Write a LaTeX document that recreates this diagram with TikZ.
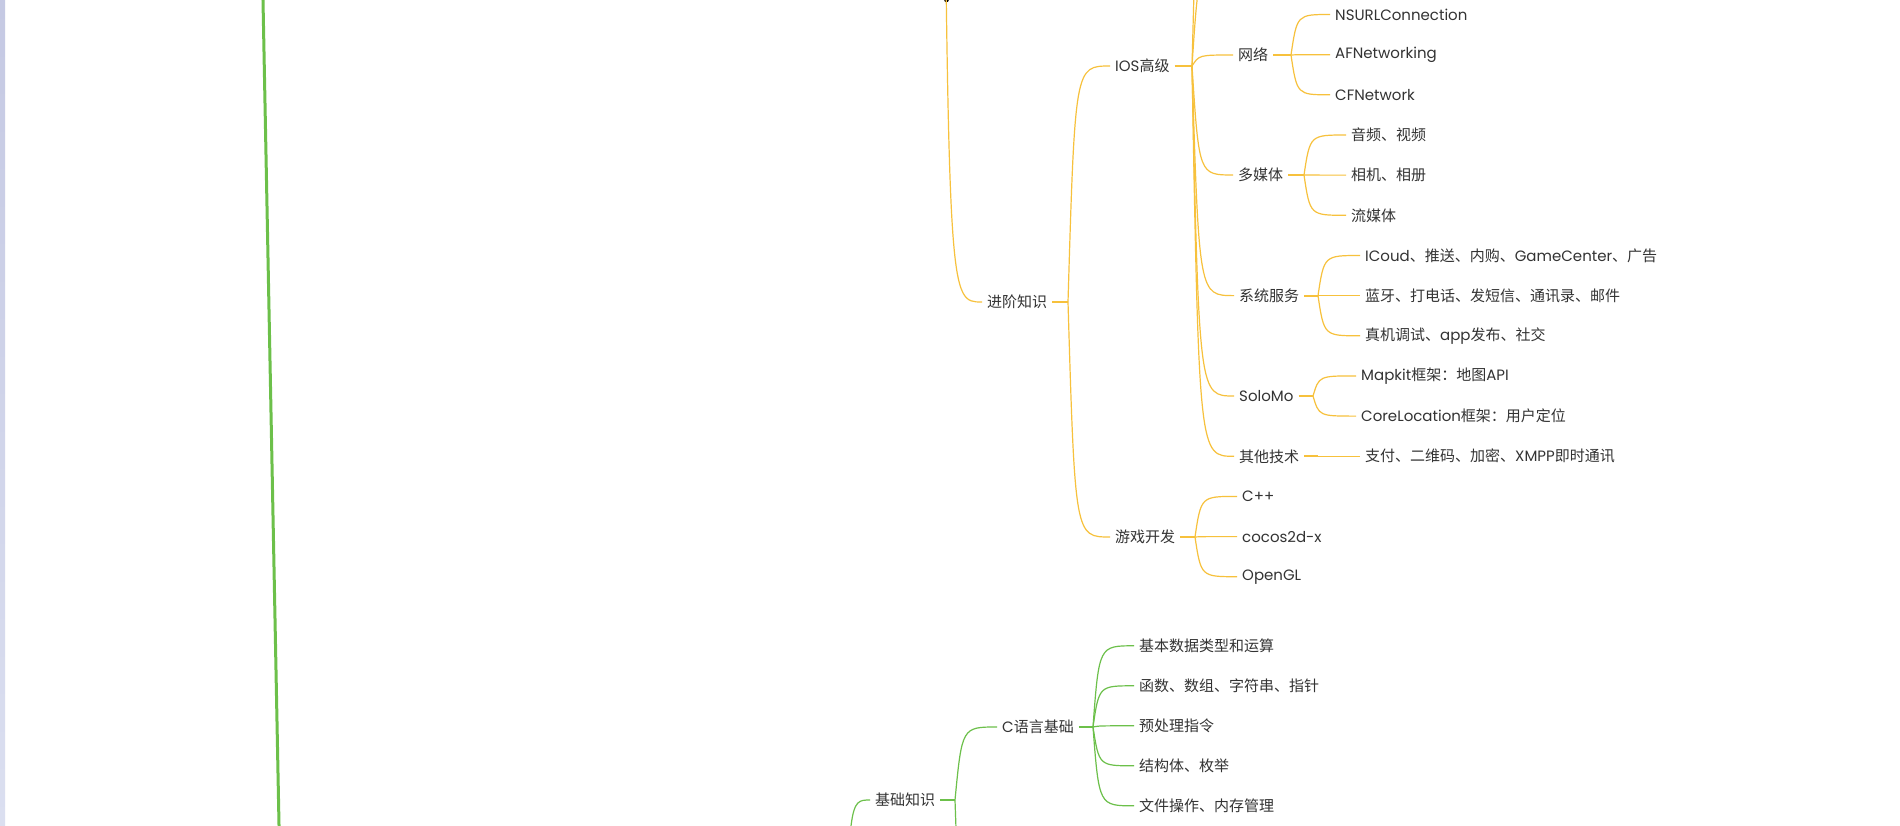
\documentclass[tikz,border=0pt]{standalone}
\usepackage{fontspec}
\setmainfont{Noto Sans CJK SC}
\newfontfamily\en{Poppins}
\usepackage{xcolor}
\usepackage{tikz}
\usetikzlibrary{calc}

\definecolor{branchyel}{RGB}{247,193,60}
\definecolor{branchgrn}{RGB}{108,192,74}
\definecolor{txtgray}{RGB}{51,51,51}
\definecolor{stripA}{RGB}{197,201,227}
\definecolor{stripB}{RGB}{219,223,240}

\tikzset{
    topic/.style={anchor=west, inner xsep=5pt, inner ysep=2pt, text=txtgray,
        font=\fontsize{15}{18}\selectfont},
    latin/.style={font=\en\fontsize{15}{18}\selectfont},
    link/.style={line width=1.2pt},
    stub/.style={line width=2pt},
}

\begin{document}
\begin{tikzpicture}[x=1pt, y=-1pt]
    \useasboundingbox (0,0) rectangle (1900,825);
    \fill[white] (0,0) rectangle (1900,825);
    \shade[top color=stripA, bottom color=stripB] (0,0) rectangle (5,825);
    \clip (5,0) rectangle (1900,825);

    % Green trunk on the left
    \coordinate (gtop) at (262.8,-10);
    \coordinate (gbot) at (279.2,835);
    \draw[branchgrn, line width=3pt] (gtop) -- (gbot);

    % Advanced part (yellow)
    \coordinate (jroot) at (943,-300);
    \fill (946.5,0) circle (2.3);
    \node[topic] (adv) at (982,302) {进阶知识};
    \draw[link, branchyel] (jroot) .. controls ($(jroot |- adv.west)+(6,0)$) .. (adv.west);
    \coordinate (jadv) at (1068,302);
    \draw[stub, branchyel] (adv.east) -- (jadv);

    \node[topic] (ios) at (1110,66) {{\en IOS}高级};
    \node[topic] (game) at (1110,537) {游戏开发};
    \foreach \c in {ios,game}
        \draw[link, branchyel] (jadv) .. controls ($(jadv |- \c.west)+(7,0)$) .. (\c.west);

    % IOS subtopics
    \coordinate (jios) at (1192,66);
    \draw[stub, branchyel] (ios.east) -- (jios);
    \coordinate (iosup1) at (1233,-40);
    \coordinate (iosup2) at (1233,-200);
    \foreach \c in {iosup1,iosup2}
        \draw[link, branchyel] (jios) .. controls ($(jios |- \c)+(7,0)$) .. (\c);

    \node[topic] (net) at (1233,55) {网络};
    \node[topic] (media) at (1233,175) {多媒体};
    \node[topic] (sys) at (1234,295.6) {系统服务};
    \node[topic, latin] (solo) at (1234,396) {SoloMo};
    \node[topic] (other) at (1234,456.3) {其他技术};
    \foreach \c in {net,media,sys,solo,other}
        \draw[link, branchyel] (jios) .. controls ($(jios |- \c.west)+(7,0)$) .. (\c.west);

    % network
    \coordinate (jnet) at (1291,55);
    \draw[stub, branchyel] (net.east) -- (jnet);
    \foreach \t/\y [count=\i] in {NSURLConnection/14.5, AFNetworking/54.7, CFNetwork/94.8} {
        \node[topic, latin] (net\i) at (1330,\y) {\t};
        \draw[link, branchyel] (jnet) .. controls ($(jnet |- net\i.west)+(6,0)$) .. (net\i.west);
    }

    % multimedia
    \coordinate (jmedia) at (1304,175);
    \draw[stub, branchyel] (media.east) -- (jmedia);
    \foreach \t/\y [count=\i] in {音频、视频/135, 相机、相册/175.1, 流媒体/215.3} {
        \node[topic] (media\i) at (1346,\y) {\t};
        \draw[link, branchyel] (jmedia) .. controls ($(jmedia |- media\i.west)+(6,0)$) .. (media\i.west);
    }

    % system services
    \coordinate (jsys) at (1318,295.6);
    \draw[stub, branchyel] (sys.east) -- (jsys);
    \foreach \t/\y [count=\i] in {{{\en ICoud}、推送、内购、{\en GameCenter}、广告}/255.5,
            {蓝牙、打电话、发短信、通讯录、邮件}/295.6, {真机调试、{\en app}发布、社交}/335.8} {
        \node[topic] (sys\i) at (1360,\y) {\t};
        \draw[link, branchyel] (jsys) .. controls ($(jsys |- sys\i.west)+(6,0)$) .. (sys\i.west);
    }

    % SoloMo
    \coordinate (jsolo) at (1313,396);
    \draw[stub, branchyel] (solo.east) -- (jsolo);
    \foreach \t/\y [count=\i] in {{{\en Mapkit}框架：地图{\en API}}/375.9,
            {{\en CoreLocation}框架：用户定位}/416.1} {
        \node[topic] (solo\i) at (1356,\y) {\t};
        \draw[link, branchyel] (jsolo) .. controls ($(jsolo |- solo\i.west)+(6,0)$) .. (solo\i.west);
    }

    % other
    \coordinate (jother) at (1318,456.3);
    \draw[stub, branchyel] (other.east) -- (jother);
    \node[topic] (other1) at (1360,456.3) {支付、二维码、加密、{\en XMPP}即时通讯};
    \draw[link, branchyel] (jother) -- (other1.west);

    % game development
    \coordinate (jgame) at (1195,537);
    \draw[stub, branchyel] (game.east) -- (jgame);
    \foreach \t/\y [count=\i] in {C++/496.4, cocos2d-x/536.6, OpenGL/576.7} {
        \node[topic, latin] (game\i) at (1237,\y) {\t};
        \draw[link, branchyel] (jgame) .. controls ($(jgame |- game\i.west)+(6,0)$) .. (game\i.west);
    }

    % Basic part (green)
    \coordinate (jbase) at (845,1000);
    \node[topic] (basic) at (870,800) {基础知识};
    \draw[link, branchgrn] (jbase) .. controls ($(jbase |- basic.west)+(4,0)$) .. (basic.west);
    \coordinate (jbasic) at (955,800);
    \draw[stub, branchgrn] (basic.east) -- (jbasic);
    \node[topic] (clang) at (997,727) {{\en C}语言基础};
    \coordinate (cnext) at (997,1000);
    \draw[link, branchgrn] (jbasic) .. controls ($(jbasic |- clang.west)+(7,0)$) .. (clang.west);
    \draw[link, branchgrn] (jbasic) .. controls ($(jbasic |- cnext)+(7,0)$) .. (cnext);

    % C language
    \coordinate (jclang) at (1093,727);
    \draw[stub, branchgrn] (clang.east) -- (jclang);
    \foreach \t [count=\i] in {基本数据类型和运算, 函数、数组、字符串、指针, 预处理指令, 结构体、枚举, 文件操作、内存管理} {
        \node[topic] (clang\i) at (1134,605.8+40*\i) {\t};
        \draw[link, branchgrn] (jclang) .. controls ($(jclang |- clang\i.west)+(6,0)$) .. (clang\i.west);
    }
\end{tikzpicture}
\end{document}
